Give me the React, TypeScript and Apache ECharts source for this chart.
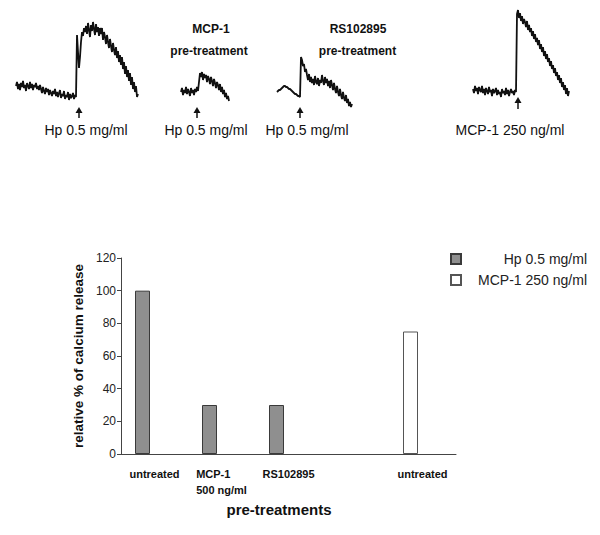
import React, { useEffect, useRef } from "react";
import * as echarts from "echarts";

// ---- calcium traces (arbitrary fluorescence units, evenly sampled) ----
const traceHpUntreated = [
  16, 20, 13, 18, 12, 19, 15, 21, 14, 17, 11, 19, 16, 13, 20, 14, 18, 12, 17, 15, 19, 13, 16, 12, 17,
  13, 9, 15, 11, 8, 14, 10, 13, 7, 12, 9, 6, 11, 8, 13, 6, 10, 5, 9, 12, 4, 8, 6, 11, 3, 7, 5, 10, 2, 8, 4, 6, 9, 3, 7, 5,
  67, 50, 34, 45, 60, 70, 66, 74,
  70, 76, 68, 79, 72, 65, 77, 71, 80, 73, 67, 78, 70, 75, 66, 74,
  68, 74, 62, 70, 65, 58, 67, 60, 54, 63, 56, 50, 59, 52, 47, 55, 44, 51, 40, 47, 37, 45, 33, 40, 28, 36, 25, 32, 21, 29,
  17, 25, 13, 20, 10, 16, 5, 8,
];
const traceHpMcp1Pre = [
  12, 16, 9, 14, 11, 17, 10, 15, 12, 8, 16, 11, 14, 9, 15, 12, 17, 13,
  22, 31,
  27, 32, 24, 30, 26, 29, 22, 28, 25, 20, 27, 23, 18, 25, 21, 16, 22, 19, 14, 20, 12, 17, 10, 14, 7, 11, 5, 8, 3,
];
const traceHpRsPre = [
  18, 19, 20, 20, 21, 22, 23, 24, 24, 23, 23, 22, 21, 21, 20, 19, 18, 17, 16, 16, 15, 14, 14, 13,
  53, 50,
  44, 46, 38, 41, 35, 30, 36, 28, 33, 27, 31, 25, 34, 28, 26, 32, 24, 30, 27, 35, 29, 25, 33, 27, 31, 24, 29, 22, 30, 25,
  20, 27, 21, 17, 24, 18, 14, 21, 15, 11, 18, 12, 9, 15, 7, 11, 4, 8, 3, 6,
];
const traceMcp1 = [
  13, 9, 16, 11, 14, 8, 15, 12, 10, 16, 9, 13, 7, 14, 11, 8, 15, 10, 12, 6, 13, 9, 11, 14, 7, 12, 8, 10, 5, 13, 9, 11,
  7, 14, 8, 12, 6, 10, 13, 9, 11, 7, 12, 10,
  88, 92, 84,
  89, 81, 86, 78, 83, 80, 75, 81, 72, 77, 70, 74, 66, 71, 63, 68, 60, 64, 57, 62, 53, 58, 50, 55, 46, 51, 43, 48, 40, 44,
  36, 41, 33, 37, 29, 34, 26, 30, 22, 27, 19, 24, 15, 20, 12, 17, 8, 14, 6, 11,
];

// ---- bar chart ----
const categories = ["untreated", "MCP-1\n500 ng/ml", "RS102895", "", "untreated"];
const hpValues = [100, 30, 30, null, null];
const mcpValues = [null, null, null, null, 75];
const spacerValues = [null, null, null, null, null];
const yTicks = { min: 0, max: 120, interval: 20 };
const seriesNames = ["Hp 0.5 mg/ml", "MCP-1 250 ng/ml"];

const FONT = "Liberation Sans, Arial, Helvetica, sans-serif";

export default function App() {
  const ref = useRef<HTMLDivElement>(null);

  useEffect(() => {
    document.body.style.margin = "0";
    if (!ref.current) return;
    const chart = echarts.init(ref.current, undefined, { renderer: "svg" });

    const traceGrids = [
      { left: 16, top: 20, width: 122, height: 82 },
      { left: 181, top: 70, width: 48, height: 34 },
      { left: 277, top: 55, width: 75, height: 55 },
      { left: 473, top: 10, width: 96, height: 92 },
    ];
    const traces = [traceHpUntreated, traceHpMcp1Pre, traceHpRsPre, traceMcp1];

    const grids: any[] = traceGrids.map((g) => ({ ...g, containLabel: false }));
    grids.push({ left: 121, right: 144, top: 258, bottom: 81 });

    const xAxes: any[] = traces.map((t, i) => ({
      type: "category",
      gridIndex: i,
      show: false,
      boundaryGap: false,
      data: t.map((_, k) => k),
    }));
    xAxes.push({
      type: "category",
      gridIndex: 4,
      data: categories,
      axisLine: { show: true, lineStyle: { color: "#444", width: 1 } },
      axisTick: { show: false },
      axisLabel: {
        interval: 0,
        margin: 12,
        fontFamily: FONT,
        fontSize: 11,
        fontWeight: "bold",
        color: "#111",
        lineHeight: 16,
        formatter: (v: string) =>
          v
            .split("\n")
            .map((s) => (s ? `{l|${s}}` : ""))
            .join("\n"),
        rich: { l: { align: "left", fontFamily: FONT, fontSize: 11, fontWeight: "bold", color: "#111", lineHeight: 16 } },
      },
      name: "pre-treatments",
      nameLocation: "middle",
      nameGap: 48,
      nameTextStyle: { fontFamily: FONT, fontSize: 15, fontWeight: "bold", color: "#111", padding: [0, 19, 0, 0] },
    });

    const yAxes: any[] = traceGrids.map((g, i) => ({
      type: "value",
      gridIndex: i,
      show: false,
      min: 0,
      max: g.height,
    }));
    yAxes.push({
      type: "value",
      gridIndex: 4,
      min: yTicks.min,
      max: yTicks.max,
      interval: yTicks.interval,
      splitLine: { show: false },
      axisLine: { show: true, lineStyle: { color: "#444", width: 1 } },
      axisTick: { show: true, length: 4, lineStyle: { color: "#444" } },
      axisLabel: { fontFamily: FONT, fontSize: 12, color: "#222", margin: 5 },
      name: "relative % of calcium release",
      nameLocation: "middle",
      nameGap: 30,
      nameTextStyle: { fontFamily: FONT, fontSize: 13.5, fontWeight: "bold", color: "#111" },
    });

    const series: any[] = traces.map((t, i) => ({
      type: "line",
      xAxisIndex: i,
      yAxisIndex: i,
      data: t,
      showSymbol: false,
      silent: true,
      lineStyle: { color: "#111", width: 1.8 },
    }));
    series.push(
      {
        name: seriesNames[0],
        type: "bar",
        stack: "main",
        xAxisIndex: 4,
        yAxisIndex: 4,
        data: hpValues,
        barWidth: 15,
        barGap: "60%",
        itemStyle: { color: "#8f8f8f", borderColor: "#3a3a3a", borderWidth: 1 },
      },
      {
        name: seriesNames[1],
        type: "bar",
        stack: "main",
        xAxisIndex: 4,
        yAxisIndex: 4,
        data: mcpValues,
        barWidth: 15,
        barGap: "60%",
        itemStyle: { color: "#ffffff", borderColor: "#555", borderWidth: 1 },
      },
      {
        name: "spacer",
        type: "bar",
        xAxisIndex: 4,
        yAxisIndex: 4,
        data: spacerValues,
        barWidth: 15,
        barGap: "60%",
        silent: true,
      }
    );

    const text = (x: number, y: number, t: string, size: number, bold = false) => ({
      type: "text",
      x,
      y,
      style: {
        text: t,
        fontFamily: FONT,
        fontSize: size,
        fontWeight: bold ? "bold" : "normal",
        fill: "#111",
        align: "center",
        verticalAlign: "middle",
      },
    });
    const arrow = (x: number, tip: number, base: number) => ({
      type: "group",
      children: [
        { type: "line", shape: { x1: x, y1: tip + 4, x2: x, y2: base }, style: { stroke: "#111", lineWidth: 1.5 } },
        {
          type: "polygon",
          shape: { points: [[x - 3.5, tip + 6], [x + 3.5, tip + 6], [x, tip]] },
          style: { fill: "#111" },
        },
      ],
    });

    chart.setOption({
      animation: false,
      backgroundColor: "#ffffff",
      textStyle: { fontFamily: FONT },
      grid: grids,
      xAxis: xAxes,
      yAxis: yAxes,
      series,
      legend: {
        data: seriesNames,
        orient: "vertical",
        left: 445,
        top: 247,
        itemWidth: 10,
        itemHeight: 10,
        itemGap: 7,
        icon: "rect",
        formatter: (n: string) => `{t|${n}}`,
        textStyle: {
          fontFamily: FONT,
          fontSize: 14,
          color: "#222",
          rich: { t: { width: 121, align: "right", fontFamily: FONT, fontSize: 14, color: "#222" } },
        },
      },
      graphic: [
        text(86, 130, "Hp 0.5 mg/ml", 14),
        text(206, 130, "Hp 0.5 mg/ml", 14),
        text(307, 130, "Hp 0.5 mg/ml", 14),
        text(510, 130, "MCP-1 250 ng/ml", 14),
        text(211, 29, "MCP-1", 12, true),
        text(209, 51, "pre-treatment", 12, true),
        text(358, 29, "RS102895", 12, true),
        text(357.5, 51, "pre-treatment", 12, true),
        arrow(79, 107, 118),
        arrow(197, 107, 118),
        arrow(300, 107, 118),
        arrow(518, 97, 109),
      ],
    });

    return () => chart.dispose();
  }, []);

  return <div ref={ref} style={{ width: 600, height: 535 }} />;
}
